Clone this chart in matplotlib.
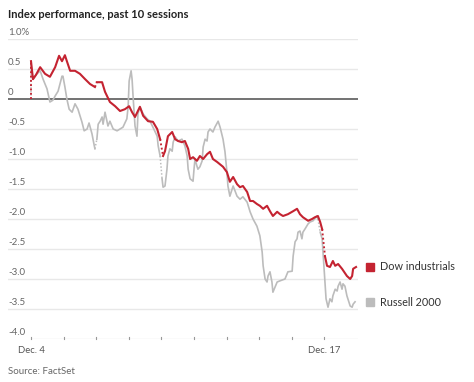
import matplotlib
matplotlib.use("Agg")
import matplotlib.pyplot as plt
import matplotlib.transforms as mtransforms

plt.rcParams['font.family'] = ['Lato', 'DejaVu Sans']

# x is measured in sessions since Dec. 4 open, values are % change
dow_x = [0.00, 0.06, 0.15, 0.28, 0.43, 0.58, 0.74, 0.86, 0.95, 1.04, 1.10, 1.20, 1.35, 1.50,
         1.66, 1.81, 1.96, 2.02, 2.18, 2.27, 2.42, 2.58, 2.73, 2.88, 3.01, 3.10, 3.19, 3.34,
         3.44, 3.59, 3.74, 3.87, 3.96, 4.05, 4.11, 4.20, 4.33, 4.42, 4.51, 4.63, 4.72, 4.82,
         4.88, 4.97, 5.09, 5.18, 5.28, 5.40, 5.49, 5.58, 5.71, 5.89, 6.01, 6.10, 6.20, 6.32,
         6.41, 6.50, 6.63, 6.72, 6.81, 6.93, 7.02, 7.12, 7.24, 7.33, 7.42, 7.55, 7.64, 7.73,
         7.88, 8.04, 8.16, 8.25, 8.34, 8.50, 8.62, 8.71, 8.80, 8.87, 8.93, 9.02, 9.08, 9.17,
         9.26, 9.33, 9.42, 9.54, 9.69, 9.79, 9.85, 9.88, 9.97]
dow_y = [0.63, 0.33, 0.40, 0.53, 0.42, 0.37, 0.53, 0.72, 0.63, 0.73, 0.63, 0.47, 0.47, 0.42,
         0.33, 0.25, 0.20, 0.28, 0.28, 0.12, -0.05, -0.12, -0.20, -0.17, -0.12, -0.22, -0.30, -0.13,
         -0.28, -0.37, -0.38, -0.50, -0.67, -0.95, -0.87, -0.62, -0.55, -0.67, -0.70, -0.72, -0.70, -0.83,
         -1.00, -0.97, -1.03, -0.95, -1.00, -0.92, -0.88, -1.00, -1.05, -1.13, -1.22, -1.38, -1.30, -1.42,
         -1.47, -1.45, -1.55, -1.70, -1.70, -1.75, -1.78, -1.83, -1.78, -1.87, -1.95, -1.88, -1.92, -1.95,
         -1.92, -1.87, -1.83, -1.92, -1.97, -2.03, -2.00, -1.97, -1.95, -2.05, -2.17, -2.63, -2.78, -2.80,
         -2.70, -2.78, -2.75, -2.83, -2.95, -3.00, -2.95, -2.83, -2.80]
dow_gaps = [17, 33, 81]

rut_x = [0.00, 0.06, 0.15, 0.28, 0.37, 0.49, 0.58, 0.67, 0.74, 0.83, 0.95, 0.98, 1.04, 1.10,
         1.17, 1.26, 1.35, 1.44, 1.56, 1.63, 1.72, 1.78, 1.87, 1.93, 1.96, 2.02, 2.06, 2.12,
         2.18, 2.21, 2.27, 2.36, 2.42, 2.52, 2.64, 2.73, 2.82, 2.94, 2.98, 3.01, 3.07, 3.10,
         3.13, 3.19, 3.25, 3.28, 3.34, 3.44, 3.56, 3.65, 3.74, 3.87, 3.90, 3.96, 4.02, 4.05,
         4.11, 4.17, 4.20, 4.26, 4.33, 4.36, 4.42, 4.51, 4.63, 4.72, 4.79, 4.82, 4.88, 4.97,
         5.00, 5.03, 5.09, 5.12, 5.18, 5.25, 5.28, 5.34, 5.40, 5.43, 5.49, 5.58, 5.64, 5.74,
         5.80, 5.89, 5.95, 6.01, 6.04, 6.10, 6.17, 6.20, 6.32, 6.41, 6.50, 6.63, 6.72, 6.81,
         6.93, 7.02, 7.09, 7.12, 7.18, 7.24, 7.27, 7.33, 7.39, 7.42, 7.55, 7.64, 7.79, 7.88,
         8.01, 8.04, 8.10, 8.16, 8.19, 8.25, 8.31, 8.34, 8.40, 8.50, 8.56, 8.65, 8.77, 8.80,
         8.87, 8.93, 9.05, 9.11, 9.17, 9.23, 9.26, 9.33, 9.39, 9.42, 9.48, 9.54, 9.57, 9.63,
         9.69, 9.79, 9.85, 9.88, 9.94]
rut_y = [0.57, 0.33, 0.40, 0.47, 0.33, 0.17, -0.05, -0.02, 0.05, 0.13, 0.38, 0.38, 0.20, 0.00,
         -0.17, -0.22, -0.08, -0.17, -0.38, -0.53, -0.50, -0.40, -0.58, -0.75, -0.83, -0.67, -0.42, -0.37,
         -0.30, -0.42, -0.22, -0.45, -0.37, -0.50, -0.53, -0.50, -0.47, -0.33, -0.12, 0.30, 0.47, 0.33,
         0.05, -0.45, -0.62, -0.25, -0.13, -0.25, -0.33, -0.37, -0.47, -0.62, -0.78, -0.95, -1.33, -1.47,
         -1.45, -1.17, -0.95, -0.83, -0.87, -0.72, -0.63, -0.70, -0.67, -0.78, -0.95, -1.17, -1.33, -1.37,
         -1.17, -1.00, -1.12, -1.17, -1.13, -1.03, -0.80, -0.67, -0.70, -0.55, -0.50, -0.55, -0.47, -0.37,
         -0.47, -0.67, -0.88, -1.22, -1.45, -1.62, -1.50, -1.45, -1.62, -1.67, -1.63, -1.72, -1.88, -2.00,
         -2.12, -2.28, -2.55, -2.78, -3.00, -3.05, -2.95, -2.88, -3.05, -3.22, -3.05, -3.03, -3.00, -2.88,
         -2.87, -2.62, -2.38, -2.33, -2.22, -2.20, -2.33, -2.22, -2.17, -2.08, -2.05, -2.03, -1.95, -2.00,
         -2.22, -2.33, -3.33, -3.47, -3.33, -3.38, -3.28, -3.17, -3.20, -3.12, -3.05, -3.17, -3.08, -3.12,
         -3.28, -3.45, -3.47, -3.42, -3.38]
rut_gaps = [25, 54, 126]

y_ticks = [1.0, 0.5, 0, -0.5, -1.0, -1.5, -2.0, -2.5, -3.0, -3.5, -4.0]
y_labels = ['1.0%', '0.5', '0', '-0.5', '-1.0', '-1.5', '-2.0', '-2.5', '-3.0', '-3.5', '-4.0']
sessions = list(range(10))
x_labels = {0: 'Dec. 4', 9: 'Dec. 17'}

red = '#c42331'
gray = '#bcbcbc'


def draw_series(ax, xs, ys, gaps, color, lw, z):
    # dotted jump from previous close, then solid sessions joined by dotted overnight gaps
    ax.plot([xs[0], xs[0]], [0, ys[0]], color=color, lw=lw * 0.9, ls=(0, (1, 1.3)), zorder=z)
    start = 0
    for g in gaps + [len(xs)]:
        ax.plot(xs[start:g], ys[start:g], color=color, lw=lw, zorder=z,
                solid_joinstyle='round')
        if g < len(xs):
            ax.plot(xs[g - 1:g + 1], ys[g - 1:g + 1], color=color, lw=lw * 0.9,
                    ls=(0, (1, 1.3)), zorder=z)
        start = g


fig = plt.figure(figsize=(4.74, 3.82), dpi=100)
ax = fig.add_axes([8 / 474, 43 / 382, 350 / 474, 300 / 382])
ax.set_xlim(-0.706, 10.03)
ax.set_ylim(-4.0, 1.0)
ax.axis('off')

for v in y_ticks:
    if v == 0:
        ax.axhline(0, color='#5a5a5a', lw=1.2, zorder=3)
    elif v == -4.0:
        ax.plot([0, 10.03], [v, v], color='#e8e8e8', lw=1, zorder=1)
    else:
        ax.axhline(v, color='#e8e8e8', lw=1, zorder=1)

trans = mtransforms.blended_transform_factory(ax.transAxes, ax.transData)
for v, lab in zip(y_ticks, y_labels):
    ax.annotate(lab, xy=(0, v), xycoords=trans, xytext=(0, 1.5), textcoords='offset points',
                ha='left', va='bottom', fontsize=7, color='#666666')

for s in sessions:
    ax.plot([s, s], [-4.0, -3.97], color='#999999', lw=0.8, zorder=2, clip_on=False)
for s, lab in x_labels.items():
    ax.annotate(lab, xy=(s, -4.0), xytext=(0, -5), textcoords='offset points',
                ha='center', va='top', fontsize=6.8, color='#555555')

draw_series(ax, rut_x, rut_y, rut_gaps, gray, 1.2, 4)
draw_series(ax, dow_x, dow_y, dow_gaps, red, 1.5, 5)

fig.text(8 / 474, 1 - 14 / 382, 'Index performance, past 10 sessions', fontsize=8.0,
         fontweight='bold', color='#222222', va='center', ha='left')
fig.text(8 / 474, 1 - 371 / 382, 'Source: FactSet', fontsize=7, color='#666666',
         va='center', ha='left')

fig.patches.append(plt.Rectangle((366 / 474, 1 - 271 / 382), 8 / 474, 8 / 382,
                                 transform=fig.transFigure, color=red))
fig.text(380 / 474, 1 - 267 / 382, 'Dow industrials', fontsize=7.8, color='#333333',
         va='center', ha='left')
fig.patches.append(plt.Rectangle((366 / 474, 1 - 306 / 382), 8 / 474, 8 / 382,
                                 transform=fig.transFigure, color=gray))
fig.text(380 / 474, 1 - 302 / 382, 'Russell 2000', fontsize=7.8, color='#333333',
         va='center', ha='left')

fig.savefig('out.png', dpi=100)
